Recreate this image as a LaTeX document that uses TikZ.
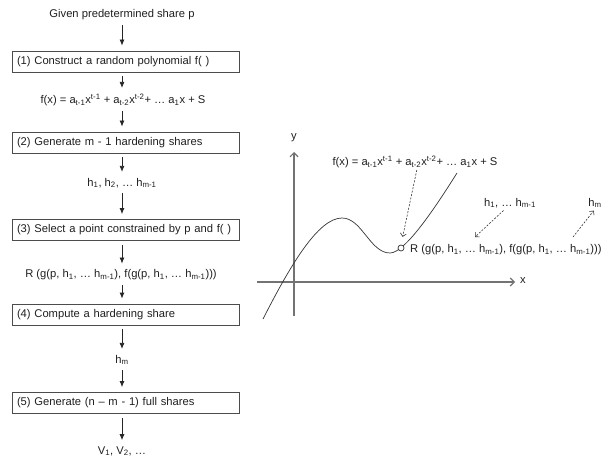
\documentclass[tikz,border=0pt]{standalone}
\usepackage{fontspec}
\setmainfont{Liberation Sans}
\usetikzlibrary{arrows.meta}
\begin{document}
\begin{tikzpicture}[x = 1pt, y = -1pt,
	every node/.style = {font = \fontsize{11.2}{13}\selectfont, text = black!88, inner sep = 1pt},
	stepbox/.style = {draw = black!70, line width = 0.8pt, text width = 217pt, inner xsep = 5pt, minimum height = 21pt, align = left},
	flowarr/.style = {-{Latex[length = 6pt, width = 5pt]}, black!85, line width = 0.8pt, shorten < = 4pt, shorten > = 5pt},
	dasharr/.style = {-{Straight Barb[length = 3pt, width = 6pt]}, black!80, dash pattern = on 2pt off 1.5pt, line width = 0.6pt},
	axisline/.style = {black!55, line width = 1.2pt},
	curve/.style = {black!80, line width = 0.7pt}]
	\useasboundingbox (0,0) rectangle (608,457);
	% flow chart
	\node (given) at (122,15) {Given predetermined share p};
	\node [stepbox] (s1) at (125.5,61.5) {(1) Construct a random polynomial f( )};
	\node (poly) at (123,100) {f(x) = a\textsubscript{t-1}x\textsuperscript{t-1} + a\textsubscript{t-2}x\textsuperscript{t-2}+ \dots\ a\textsubscript{1}x + S};
	\node [stepbox] (s2) at (125.5,142.5) {(2) Generate m - 1 hardening shares};
	\node (hs) at (122,183) {h\textsubscript{1}, h\textsubscript{2}, \dots\ h\textsubscript{m-1}};
	\node [stepbox] (s3) at (125.5,230) {(3) Select a point constrained by p and f( )};
	\node (rval) at (121,275) {R (g(p, h\textsubscript{1}, \dots\ h\textsubscript{m-1}), f(g(p, h\textsubscript{1}, \dots\ h\textsubscript{m-1})))};
	\node [stepbox] (s4) at (125.5,314.5) {(4) Compute a hardening share};
	\node (hm) at (122,360) {h\textsubscript{m}};
	\node [stepbox] (s5) at (125.5,403) {(5) Generate (n -- m - 1) full shares};
	\node [anchor = south] (vs) at (122,457) {V\textsubscript{1}, V\textsubscript{2}, \dots};
	\draw [flowarr] (given.south) -- (given.south |- s1.north);
	\draw [flowarr] (s1.south -| given) -- (poly.north -| given);
	\draw [flowarr] (poly.south -| given) -- (s2.north -| given);
	\draw [flowarr] (s2.south -| given) -- (hs.north -| given);
	\draw [flowarr] (hs.south -| given) -- (s3.north -| given);
	\draw [flowarr] (s3.south -| given) -- (rval.north -| given);
	\draw [flowarr] (rval.south -| given) -- (s4.north -| given);
	\draw [flowarr] (s4.south -| given) -- (hm.north -| given);
	\draw [flowarr] (hm.south -| given) -- (s5.north -| given);
	\draw [flowarr] (s5.south -| given) -- (vs.north -| given);
	% plot
	\draw [axisline, -{Straight Barb[length = 4pt, width = 8pt]}] (294,316) -- (294,152);
	\draw [axisline, -{Straight Barb[length = 4pt, width = 8pt]}] (257,282) -- (515,282);
	\node (ylab) at (294,138) {y};
	\node (xlab) at (523,281) {x};
	\draw [curve] (263,319) .. controls (290,266) and (318,218) .. (342,218)
		.. controls (362,218) and (370,253) .. (390,253)
		.. controls (405,253) and (435,208) .. (457,173);
	\node [circle, draw = black!80, line width = 0.7pt, fill = white, inner sep = 0pt, minimum size = 6pt] (rpt) at (401,248) {};
	\node (fxlab) at (415,162) {f(x) = a\textsubscript{t-1}x\textsuperscript{t-1} + a\textsubscript{t-2}x\textsuperscript{t-2}+ \dots\ a\textsubscript{1}x + S};
	\node [anchor = west] (rlab) at (409,250) {R (g(p, h\textsubscript{1}, \dots\ h\textsubscript{m-1}), f(g(p, h\textsubscript{1}, \dots\ h\textsubscript{m-1})))};
	\node (hlab) at (510,203) {h\textsubscript{1}, \dots\ h\textsubscript{m-1}};
	\node (hmlab) at (595,203) {h\textsubscript{m}};
	\coordinate (hto) at (475,237);
	\coordinate (hmfrom) at (573,237);
	\draw [dasharr, shorten < = 1pt, shorten > = 8pt] ([xshift = 2pt]fxlab.south) -- (rpt.north);
	\draw [dasharr, shorten < = 2pt] ([xshift = -5pt]hlab.south) -- (hto);
	\draw [dasharr, shorten > = 2pt] (hmfrom) -- (hmlab.south);
\end{tikzpicture}
\end{document}
